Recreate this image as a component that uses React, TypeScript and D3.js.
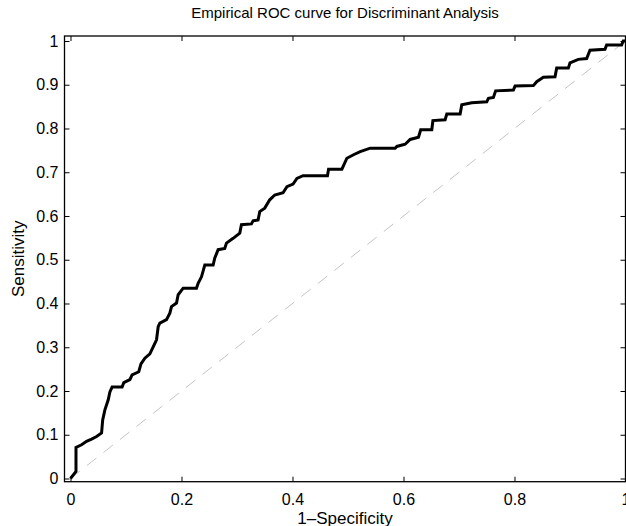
import React, { useEffect, useRef } from 'react'
import * as d3 from 'd3'

const W = 626
const H = 526

// ROC vertices (1-specificity, sensitivity)
const fpr: number[] = [
    0, 0.0099, 0.0099, 0.020, 0.029, 0.038, 0.047, 0.056, 0.058, 0.062, 0.068, 0.071, 0.075,
    0.093, 0.096, 0.107, 0.111, 0.123, 0.127, 0.134, 0.143, 0.149, 0.155, 0.158, 0.161,
    0.173, 0.179, 0.182, 0.191, 0.194, 0.203, 0.227, 0.230, 0.236, 0.242, 0.257, 0.260,
    0.266, 0.278, 0.281, 0.293, 0.305, 0.308, 0.326, 0.329, 0.338, 0.341, 0.350, 0.359,
    0.368, 0.383, 0.390, 0.401, 0.408, 0.419, 0.463, 0.465, 0.489, 0.498, 0.510, 0.522,
    0.540, 0.585, 0.588, 0.603, 0.612, 0.627, 0.631, 0.651, 0.653, 0.675, 0.678, 0.702,
    0.705, 0.723, 0.750, 0.753, 0.762, 0.766, 0.798, 0.801, 0.834, 0.840, 0.852, 0.873,
    0.876, 0.897, 0.900, 0.915, 0.930, 0.936, 0.963, 0.966, 0.993, 0.996, 1,
]
const tpr: number[] = [
    0, 0.016, 0.071, 0.077, 0.085, 0.090, 0.096, 0.104, 0.134, 0.157, 0.180, 0.198, 0.209,
    0.209, 0.219, 0.226, 0.237, 0.244, 0.262, 0.275, 0.285, 0.301, 0.317, 0.347, 0.355,
    0.363, 0.378, 0.393, 0.401, 0.420, 0.435, 0.435, 0.446, 0.461, 0.488, 0.488, 0.504,
    0.523, 0.526, 0.538, 0.549, 0.561, 0.580, 0.582, 0.589, 0.591, 0.610, 0.618, 0.637,
    0.648, 0.653, 0.667, 0.673, 0.686, 0.692, 0.692, 0.707, 0.707, 0.732, 0.740, 0.747,
    0.755, 0.755, 0.759, 0.764, 0.775, 0.780, 0.797, 0.797, 0.818, 0.820, 0.833, 0.833,
    0.854, 0.859, 0.861, 0.869, 0.871, 0.886, 0.888, 0.897, 0.898, 0.907, 0.917, 0.918,
    0.938, 0.938, 0.950, 0.958, 0.960, 0.979, 0.981, 0.991, 0.991, 1.0, 1,
]

const xTicks = [0, 0.2, 0.4, 0.6, 0.8, 1]
const yTicks = [0, 0.1, 0.2, 0.3, 0.4, 0.5, 0.6, 0.7, 0.8, 0.9, 1]
const diag = [[0, 0], [1, 1]]

const titleText = 'Empirical ROC curve for Discriminant Analysis'
const xLabel = '1\u2013Specificity'
const yLabel = 'Sensitivity'

const font = '"Liberation Sans", Arial, Helvetica, sans-serif'

export default function App() {
    const ref = useRef<SVGSVGElement>(null)

    useEffect(() => {
        const svg = d3.select(ref.current)
        svg.selectAll('*').remove()

        const left = 64.5, right = 625.5, top = 36, bottom = 481.7
        const x = d3.scaleLinear().domain([-0.0108, 1.0]).range([left, right])
        const y = d3.scaleLinear().domain([-0.0073, 1.0114]).range([bottom, top])

        const g = svg.append('g')

        // dashed chance line
        g.append('path')
            .attr('d', d3.line()(diag.map(d => [x(d[0]), y(d[1])] as [number, number])))
            .attr('fill', 'none')
            .attr('stroke', '#c4c4c4')
            .attr('stroke-width', 1)
            .attr('stroke-dasharray', '12 9')

        const pts = fpr.map((f, i) => [f, tpr[i]] as [number, number])
        const line = d3.line<[number, number]>().x(d => x(d[0])).y(d => y(d[1]))
        g.append('path')
            .attr('d', line(pts))
            .attr('fill', 'none')
            .attr('stroke', '#000')
            .attr('stroke-width', 3)
            .attr('stroke-linejoin', 'miter')

        const fmt = (d: any) => String(d)
        const styleAxis = (s: any) => {
            s.select('.domain').remove()
            s.selectAll('line').attr('stroke', '#000').attr('stroke-width', 1)
            s.selectAll('text').attr('font-family', font).attr('font-size', 16).attr('fill', '#000')
        }

        g.append('g').attr('transform', `translate(0,${bottom})`)
            .call(d3.axisBottom(x).tickValues(xTicks).tickFormat(fmt).tickSizeInner(-5).tickSizeOuter(0).tickPadding(12) as any)
            .call(styleAxis)
        g.append('g').attr('transform', `translate(0,${top})`)
            .call(d3.axisTop(x).tickValues(xTicks).tickFormat(() => '').tickSizeInner(-5).tickSizeOuter(0) as any)
            .call(styleAxis)
        g.append('g').attr('transform', `translate(${left},0)`)
            .call(d3.axisLeft(y).tickValues(yTicks).tickFormat(fmt).tickSizeInner(-5).tickSizeOuter(0).tickPadding(6) as any)
            .call(styleAxis)
        g.append('g').attr('transform', `translate(${right},0)`)
            .call(d3.axisRight(y).tickValues(yTicks).tickFormat(() => '').tickSizeInner(-5).tickSizeOuter(0) as any)
            .call(styleAxis)

        g.append('rect')
            .attr('x', left).attr('y', top)
            .attr('width', right - left).attr('height', bottom - top)
            .attr('fill', 'none').attr('stroke', '#000').attr('stroke-width', 1.3)

        g.append('text')
            .attr('x', (left + right) / 2).attr('y', 18)
            .attr('text-anchor', 'middle')
            .attr('font-family', font).attr('font-size', 15)
            .text(titleText)

        g.append('text')
            .attr('x', (left + right) / 2).attr('y', 524)
            .attr('text-anchor', 'middle')
            .attr('font-family', font).attr('font-size', 17)
            .text(xLabel)

        g.append('text')
            .attr('transform', `translate(24,${(top + bottom) / 2}) rotate(-90)`)
            .attr('text-anchor', 'middle')
            .attr('font-family', font).attr('font-size', 17)
            .text(yLabel)
    }, [])

    return <svg ref={ref} width={W} height={H}
        style={{ position: 'absolute', left: 0, top: 0, background: '#fff' }} />
}
